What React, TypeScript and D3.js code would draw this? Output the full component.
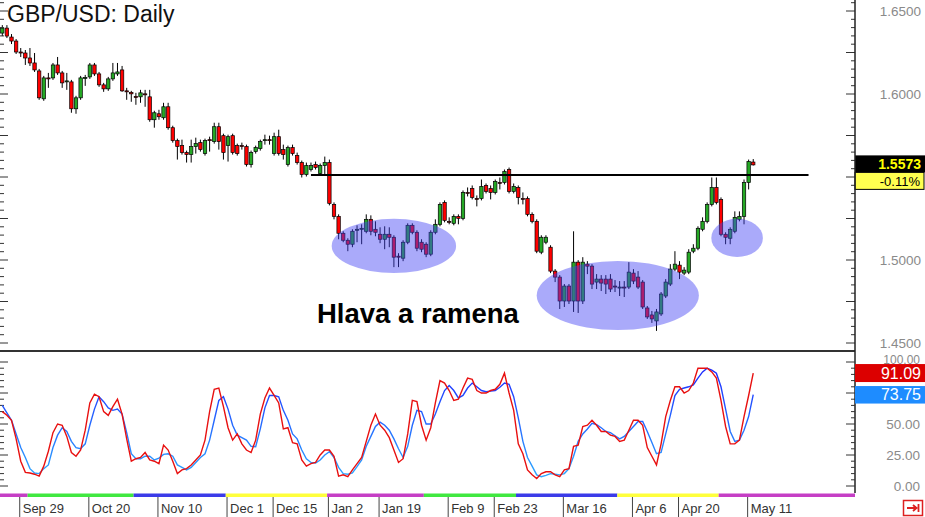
import * as d3 from 'd3';

// GBP/USD daily candles, Sep 23 2014 .. May 12 2015
const open = [
  1.6367, 1.6397, 1.6343, 1.6319, 1.6253, 1.6247, 1.6217, 1.6187, 1.6139, 1.5971,
  1.6097, 1.6097, 1.6175, 1.6127, 1.6073, 1.6073, 1.5911, 1.5977, 1.6094, 1.6103,
  1.6175, 1.6121, 1.6055, 1.6031, 1.6091, 1.6121, 1.6145, 1.6019, 1.6010, 1.5985,
  1.5983, 1.6001, 1.5983, 1.5845, 1.5881, 1.5857, 1.5923, 1.5797, 1.5719, 1.5689,
  1.5647, 1.5635, 1.5683, 1.5707, 1.5641, 1.5725, 1.5713, 1.5803, 1.5749, 1.5689,
  1.5749, 1.5689, 1.5689, 1.5683, 1.5575, 1.5653, 1.5671, 1.5719, 1.5725, 1.5641,
  1.5743, 1.5665, 1.5575, 1.5677, 1.5629, 1.5587, 1.5515, 1.5545, 1.5575, 1.5521,
  1.5569, 1.5587, 1.5335, 1.5263, 1.5161, 1.5119, 1.5095, 1.5179, 1.5185, 1.5173,
  1.5245, 1.5185, 1.5155, 1.5125, 1.5155, 1.5137, 1.5023, 1.5011, 1.5107, 1.5209,
  1.5167, 1.5107, 1.5095, 1.5035, 1.5167, 1.5215, 1.5347, 1.5233, 1.5221, 1.5263,
  1.5251, 1.5407, 1.5431, 1.5371, 1.5371, 1.5449, 1.5431, 1.5407, 1.5467, 1.5467,
  1.5545, 1.5413, 1.5437, 1.5371, 1.5371, 1.5275, 1.5233, 1.5047, 1.5107, 1.5077,
  1.4933, 1.4897, 1.4753, 1.4843, 1.4753, 1.4987, 1.4753, 1.4975, 1.4963, 1.4867,
  1.4885, 1.4885, 1.4885, 1.4843, 1.4831, 1.4837, 1.4837, 1.4921, 1.4897, 1.4867,
  1.4711, 1.4669, 1.4633, 1.4675, 1.4783, 1.4855, 1.4945, 1.4969, 1.4921, 1.4927,
  1.5053, 1.5071, 1.5185, 1.5233, 1.5335, 1.5437, 1.5365, 1.5155, 1.5131, 1.5173,
  1.5245, 1.5263, 1.5467, 1.5590,
];
const high = [
  1.6415, 1.6415, 1.6361, 1.6331, 1.6277, 1.6265, 1.6277, 1.6247, 1.6151, 1.6109,
  1.6127, 1.6187, 1.6223, 1.6139, 1.6127, 1.6085, 1.5989, 1.6109, 1.6115, 1.6187,
  1.6187, 1.6133, 1.6067, 1.6103, 1.6187, 1.6187, 1.6169, 1.6037, 1.6019, 1.6007,
  1.6025, 1.6025, 1.6025, 1.5899, 1.5905, 1.5947, 1.5947, 1.5809, 1.5731, 1.5725,
  1.5659, 1.5725, 1.5737, 1.5725, 1.5731, 1.5743, 1.5827, 1.5827, 1.5761, 1.5755,
  1.5761, 1.5701, 1.5707, 1.5695, 1.5659, 1.5689, 1.5725, 1.5755, 1.5749, 1.5767,
  1.5785, 1.5695, 1.5689, 1.5695, 1.5647, 1.5599, 1.5587, 1.5587, 1.5593, 1.5581,
  1.5623, 1.5605, 1.5347, 1.5275, 1.5173, 1.5131, 1.5185, 1.5209, 1.5215, 1.5275,
  1.5269, 1.5233, 1.5197, 1.5203, 1.5197, 1.5149, 1.5041, 1.5119, 1.5221, 1.5221,
  1.5179, 1.5125, 1.5107, 1.5179, 1.5245, 1.5347, 1.5359, 1.5257, 1.5275, 1.5275,
  1.5419, 1.5437, 1.5449, 1.5389, 1.5485, 1.5461, 1.5449, 1.5485, 1.5497, 1.5545,
  1.5557, 1.5461, 1.5449, 1.5407, 1.5383, 1.5287, 1.5245, 1.5149, 1.5149, 1.5089,
  1.4945, 1.4909, 1.4855, 1.4855, 1.5173, 1.4999, 1.5017, 1.4993, 1.4975, 1.4915,
  1.4909, 1.4909, 1.4915, 1.4879, 1.4873, 1.4873, 1.4987, 1.4945, 1.4933, 1.4879,
  1.4723, 1.4693, 1.4705, 1.4807, 1.4885, 1.4975, 1.5053, 1.4993, 1.4957, 1.5065,
  1.5095, 1.5203, 1.5257, 1.5347, 1.5497, 1.5497, 1.5377, 1.5167, 1.5197, 1.5293,
  1.5293, 1.5485, 1.5605, 1.5608,
];
const low = [
  1.6349, 1.6337, 1.6301, 1.6241, 1.6223, 1.6175, 1.6169, 1.6133, 1.5965, 1.5959,
  1.6037, 1.6085, 1.6115, 1.6037, 1.6025, 1.5887, 1.5881, 1.5965, 1.6049, 1.6091,
  1.6109, 1.6043, 1.6013, 1.6019, 1.6079, 1.6109, 1.6013, 1.5965, 1.5953, 1.5935,
  1.5947, 1.5923, 1.5833, 1.5797, 1.5845, 1.5845, 1.5785, 1.5707, 1.5605, 1.5635,
  1.5587, 1.5587, 1.5641, 1.5653, 1.5629, 1.5653, 1.5701, 1.5665, 1.5605, 1.5593,
  1.5635, 1.5629, 1.5665, 1.5563, 1.5557, 1.5641, 1.5659, 1.5695, 1.5695, 1.5629,
  1.5629, 1.5605, 1.5563, 1.5629, 1.5575, 1.5497, 1.5503, 1.5533, 1.5545, 1.5509,
  1.5515, 1.5329, 1.5245, 1.5125, 1.5107, 1.5053, 1.5077, 1.5107, 1.5095, 1.5161,
  1.5149, 1.5143, 1.5101, 1.5065, 1.5077, 1.4957, 1.4957, 1.4993, 1.5095, 1.5155,
  1.5053, 1.5047, 1.5017, 1.5023, 1.5155, 1.5203, 1.5227, 1.5215, 1.5209, 1.5215,
  1.5239, 1.5383, 1.5365, 1.5323, 1.5359, 1.5401, 1.5365, 1.5395, 1.5425, 1.5455,
  1.5401, 1.5401, 1.5335, 1.5335, 1.5263, 1.5221, 1.5041, 1.5035, 1.5095, 1.4921,
  1.4867, 1.4705, 1.4717, 1.4735, 1.4687, 1.4681, 1.4735, 1.4915, 1.4825, 1.4825,
  1.4813, 1.4795, 1.4807, 1.4807, 1.4783, 1.4777, 1.4825, 1.4855, 1.4825, 1.4705,
  1.4645, 1.4621, 1.4573, 1.4663, 1.4771, 1.4843, 1.4933, 1.4885, 1.4909, 1.4915,
  1.5041, 1.5059, 1.5173, 1.5221, 1.5323, 1.5335, 1.5143, 1.5095, 1.5095, 1.5161,
  1.5233, 1.5215, 1.5425, 1.5569,
];
const close = [
  1.6397, 1.6349, 1.6319, 1.6253, 1.6247, 1.6217, 1.6187, 1.6145, 1.5977, 1.6097,
  1.6091, 1.6175, 1.6127, 1.6067, 1.6079, 1.5911, 1.5977, 1.6097, 1.6100, 1.6175,
  1.6121, 1.6055, 1.6031, 1.6091, 1.6127, 1.6133, 1.6019, 1.6013, 1.6001, 1.5979,
  1.6007, 1.5995, 1.5845, 1.5887, 1.5863, 1.5923, 1.5797, 1.5719, 1.5683, 1.5647,
  1.5635, 1.5683, 1.5701, 1.5665, 1.5719, 1.5719, 1.5803, 1.5713, 1.5647, 1.5743,
  1.5647, 1.5641, 1.5683, 1.5575, 1.5647, 1.5677, 1.5713, 1.5725, 1.5719, 1.5743,
  1.5641, 1.5635, 1.5677, 1.5641, 1.5587, 1.5515, 1.5569, 1.5569, 1.5557, 1.5569,
  1.5587, 1.5341, 1.5263, 1.5161, 1.5119, 1.5095, 1.5173, 1.5185, 1.5191, 1.5245,
  1.5173, 1.5167, 1.5125, 1.5155, 1.5137, 1.5017, 1.5017, 1.5107, 1.5209, 1.5167,
  1.5071, 1.5065, 1.5035, 1.5167, 1.5215, 1.5335, 1.5239, 1.5227, 1.5263, 1.5251,
  1.5407, 1.5401, 1.5377, 1.5365, 1.5443, 1.5413, 1.5407, 1.5473, 1.5461, 1.5533,
  1.5413, 1.5443, 1.5377, 1.5365, 1.5275, 1.5233, 1.5053, 1.5137, 1.5137, 1.4933,
  1.4897, 1.4753, 1.4843, 1.4753, 1.4987, 1.4753, 1.4987, 1.4963, 1.4855, 1.4885,
  1.4861, 1.4855, 1.4825, 1.4837, 1.4837, 1.4831, 1.4927, 1.4873, 1.4837, 1.4717,
  1.4657, 1.4645, 1.4687, 1.4795, 1.4867, 1.4945, 1.4975, 1.4927, 1.4939, 1.5047,
  1.5071, 1.5191, 1.5233, 1.5335, 1.5437, 1.5347, 1.5155, 1.5137, 1.5185, 1.5257,
  1.5263, 1.5467, 1.5593, 1.5573,
];

// slow stochastic, %K (red) and %D (blue)
const stochK = [
  60, 57, 53, 38, 20, 11, 10.5, 9.5, 8, 16,
  28, 43, 50, 49, 40, 27, 24, 29, 45, 67,
  74, 72, 60, 57, 64, 70, 58, 38, 20, 22,
  23, 27, 21, 20, 18, 33, 29, 20, 10, 13,
  14, 17, 21, 25, 37, 60, 78, 79, 64, 47,
  37, 42, 34, 29, 27, 37, 58, 71, 79, 73,
  67, 46, 47, 35, 34, 21, 16, 18, 19, 25,
  29, 29, 24, 8, 9, 7.5, 13, 18, 23, 36,
  49, 58, 49, 45, 39, 29, 19, 22, 42, 69,
  68, 49, 37, 47, 67, 85, 83, 77, 69, 70,
  79, 87, 86, 77, 75, 75, 77, 78, 82, 91,
  75, 61, 34, 26, 13, 9, 6, 10, 11.5, 11.5,
  9, 7.5, 13, 14, 32, 33, 48, 49, 53, 49,
  44, 44, 41, 40, 36, 37, 45, 53, 53, 49,
  31, 24, 17, 34, 56, 69, 80, 80, 75, 77,
  83, 95, 95, 95, 92, 87, 69, 48, 34, 34,
  37, 56, 73, 91.09,
];
const stochD = [
  65, 59, 53, 42, 31, 23, 14, 10.5, 10, 14,
  17, 31, 41, 47, 44, 36, 31, 30, 34, 49,
  62, 72, 68, 63, 61, 62, 58, 43, 26, 22,
  22, 24, 24, 21, 22.5, 25.5, 26, 24, 17, 15,
  13, 15, 19, 23, 26, 37, 53, 69, 72, 62,
  49, 41, 39, 37, 32, 31.7, 46, 63, 73, 73,
  72, 61, 53, 42, 38, 29, 22, 19, 18.5, 21,
  25, 27.7, 23, 15, 10, 9.5, 10.5, 15.6, 21, 32,
  40, 48, 51.5, 49, 45, 38, 30, 23, 32, 49,
  61, 60, 50, 50, 58, 68, 77, 81, 77, 71,
  73, 79, 83, 80, 77, 76, 76.5, 77, 79.6, 83,
  82, 72, 55, 36, 23, 16, 9, 7.5, 8.5, 10,
  9.5, 9, 10, 14, 24, 36, 42, 46, 50.5, 49.5,
  47, 44, 43, 40.5, 38, 40, 44, 48, 52, 52,
  44, 35, 26, 27, 42, 57, 73, 78, 79, 80,
  81.5, 87, 92, 95, 93.5, 91, 80, 62, 44, 36,
  37, 45, 56, 73.75,
];

const dateLabels = ['Sep 29', 'Oct 20', 'Nov 10', 'Dec 1', 'Dec 15', 'Jan 2', 'Jan 19', 'Feb 9', 'Feb 23', 'Mar 16', 'Apr 6', 'Apr 20', 'May 11'];
const holidays = ['2014-12-25', '2015-01-01'];
const monthColors = ['#c53ec5', '#40e840', '#3b3be8', '#ffff3c'];
// labels that are not covered by the value boxes
const priceLabels = [1.45, 1.5, 1.6, 1.65];
const stochLabels = [0, 25, 50, 100];

const lastPrice = 1.5573;
const lastChange = '-0.11%';
const neckline = { price: 1.5512, from: 67, to: 175 };
// shoulders and head: centre (bar index, price), half width in bars, half height in price
const shapes = [
  { at: 85, price: 1.5085, halfBars: 13.5, halfPrice: 0.0163 },
  { at: 133.6, price: 1.4786, halfBars: 17.6, halfPrice: 0.0208 },
  { at: 159.5, price: 1.5133, halfBars: 5.6, halfPrice: 0.0115 },
];

const W = 925;
const H = 517;
const axisX = 855;
const font = "'Liberation Sans', Arial, sans-serif";
const step = 4.607;

const isoFmt = d3.timeFormat('%Y-%m-%d');
const labelFmt = d3.timeFormat('%b %-d');
const days = d3.timeDay
  .range(new Date(2014, 8, 23), new Date(2015, 4, 13))
  .filter(d => d.getDay() % 6 !== 0 && !holidays.includes(isoFmt(d)))
  .slice(0, close.length);

export default function App() {
  const n = close.length;
  const x = d3.scaleLinear().domain([0, n - 1]).range([2.3, 2.3 + step * (n - 1)]);
  const y = d3.scaleLinear().domain([1.45, 1.65]).range([343, 11]);
  const ys = d3.scaleLinear().domain([0, 100]).range([486, 362]);

  const lineK = d3.line<number>().x((_, i) => x(i)).y(v => ys(v));
  const bodyW = 3.4;

  // price ticks every 0.005, long every 0.025
  const priceTicks = d3.range(290, 332).map(k => ({ v: k * 0.005, major: k % 5 === 0 }));
  const stochTicks = d3.range(0, 21).map(k => ({ v: k * 5, major: k % 5 === 0 }));

  // month colour strip
  const months: { start: number; end: number; color: string }[] = [];
  days.forEach((d, i) => {
    if (i === 0 || d.getMonth() !== days[i - 1].getMonth()) {
      if (months.length) months[months.length - 1].end = i;
      months.push({ start: i, end: n, color: monthColors[(d.getMonth() + 4) % 4] });
    }
  });

  const labelIdx = dateLabels.map(l => days.findIndex(d => labelFmt(d) === l));

  return (
    <svg width={W} height={H} style={{ position: 'absolute', left: 0, top: 0, background: '#fff' }} fontFamily={font}>
      <defs>
        <linearGradient id="dGrad" gradientUnits="userSpaceOnUse" x1={0} y1={ys(100)} x2={0} y2={ys(0)}>
          <stop offset="0%" stopColor="#1c22ff" />
          <stop offset="100%" stopColor="#2fb2ff" />
        </linearGradient>
        <clipPath id="mainClip"><rect x={0} y={0} width={axisX} height={351} /></clipPath>
      </defs>
      <rect x={0} y={0} width={W} height={H} fill="#fff" />

      {/* candles */}
      <g clipPath="url(#mainClip)">
        {close.map((c, i) => {
          const o = open[i];
          const up = c >= o;
          const top = y(Math.max(o, c));
          const h = Math.max(1, Math.abs(y(o) - y(c)));
          return (
            <g key={i}>
              <line x1={x(i)} x2={x(i)} y1={y(high[i])} y2={y(low[i])} stroke="#000" strokeWidth={1} />
              <rect x={x(i) - bodyW / 2} y={top} width={bodyW} height={h}
                fill={up ? '#25a825' : '#ff0000'} stroke="#000" strokeWidth={0.7} />
            </g>
          );
        })}
        {shapes.map((s, i) => (
          <ellipse key={i} cx={x(s.at)} cy={y(s.price)} rx={s.halfBars * step}
            ry={y(s.price - s.halfPrice) - y(s.price)} fill="rgb(66,66,244)" fillOpacity={0.45} />
        ))}
        <line x1={x(neckline.from)} x2={x(neckline.to)} y1={y(neckline.price)} y2={y(neckline.price)}
          stroke="#000" strokeWidth={2} />
      </g>

      <text x={7} y={22} fontSize={23} fill="#111">GBP/USD: Daily</text>
      <text x={317} y={322.5} fontSize={27.5} fontWeight="bold" fill="#000">Hlava a ramena</text>

      {/* price axis */}
      {priceTicks.map((t, i) => (
        <g key={i}>
          <line x1={0} x2={t.major ? 8 : 4} y1={y(t.v)} y2={y(t.v)} stroke="#333" />
          <line x1={axisX - (t.major ? 9 : 4)} x2={axisX} y1={y(t.v)} y2={y(t.v)} stroke="#333" />
        </g>
      ))}
      {priceLabels.map(v => (
        <text key={v} x={921} y={y(v)} dy="0.36em" textAnchor="end" fontSize={13.5} fill="#8a8a8a">{v.toFixed(4)}</text>
      ))}
      <rect x={axisX} y={y(lastPrice) - 9.5} width={W - axisX} height={17} fill="#000" />
      <text x={921} y={y(lastPrice) - 1} dy="0.36em" textAnchor="end" fontSize={14} fontWeight="bold" fill="#ffff00">{lastPrice.toFixed(4)}</text>
      <rect x={axisX} y={y(lastPrice) + 7.5} width={W - axisX - 1} height={17} fill="#ffff50" stroke="#000" strokeWidth={1} />
      <text x={920} y={y(lastPrice) + 16} dy="0.36em" textAnchor="end" fontSize={13} fill="#000">{lastChange}</text>

      {/* panel separator */}
      <line x1={0} x2={axisX} y1={351} y2={351} stroke="#333" strokeWidth={2} />
      <line x1={axisX} x2={axisX} y1={0} y2={493} stroke="#222" strokeWidth={1.5} />

      {/* stochastic */}
      {stochTicks.map((t, i) => (
        <g key={i}>
          <line x1={0} x2={t.major ? 8 : 4} y1={ys(t.v)} y2={ys(t.v)} stroke="#333" />
          <line x1={axisX - (t.major ? 9 : 4)} x2={axisX} y1={ys(t.v)} y2={ys(t.v)} stroke="#333" />
        </g>
      ))}
      {stochLabels.map(v => (
        v === 100
          ? <text key={v} x={920} y={ys(v) + 1.5} textAnchor="end" fontSize={12} fill="#8a8a8a">{v.toFixed(2)}</text>
          : <text key={v} x={920} y={ys(v)} dy="0.36em" textAnchor="end" fontSize={13.5} fill="#8a8a8a">{v.toFixed(2)}</text>
      ))}
      <path d={lineK(stochD) || ''} fill="none" stroke="url(#dGrad)" strokeWidth={1.4} />
      <path d={lineK(stochK) || ''} fill="none" stroke="#e81010" strokeWidth={1.4} />
      <rect x={axisX} y={ys(stochK[n - 1]) - 9} width={W - axisX} height={18} fill="#dc0000" />
      <text x={921} y={ys(stochK[n - 1])} dy="0.36em" textAnchor="end" fontSize={16} fill="#fff">{stochK[n - 1].toFixed(2)}</text>
      <rect x={axisX} y={ys(stochD[n - 1]) - 8.5} width={W - axisX} height={17.5} fill="#1e8cff" />
      <text x={921} y={ys(stochD[n - 1])} dy="0.36em" textAnchor="end" fontSize={16} fill="#fff">{stochD[n - 1].toFixed(2)}</text>

      {/* date strip */}
      {months.map((m, i) => (
        <rect key={i} x={Math.max(0, x(m.start) - step / 2)} y={493.5}
          width={(i === months.length - 1 ? axisX : x(m.end) - step / 2) - Math.max(0, x(m.start) - step / 2)}
          height={3.5} fill={m.color} />
      ))}
      {labelIdx.map((idx, i) => (
        <g key={i}>
          <line x1={x(idx) - 1} x2={x(idx) - 1} y1={497} y2={H} stroke="#444" strokeWidth={1} />
          <text x={x(idx) + 2} y={513} fontSize={13} fill="#333">{dateLabels[i]}</text>
        </g>
      ))}

      {/* scroll-to-end button */}
      <rect x={903.5} y={500.5} width={19} height={15} fill="#fff" stroke="#dd2020" strokeWidth={1.5} />
      <path d="M907,508 H916 M913,505 L916.5,508 L913,511 M918.5,504 V512" fill="none" stroke="#dd2020" strokeWidth={1.8} />
    </svg>
  );
}
